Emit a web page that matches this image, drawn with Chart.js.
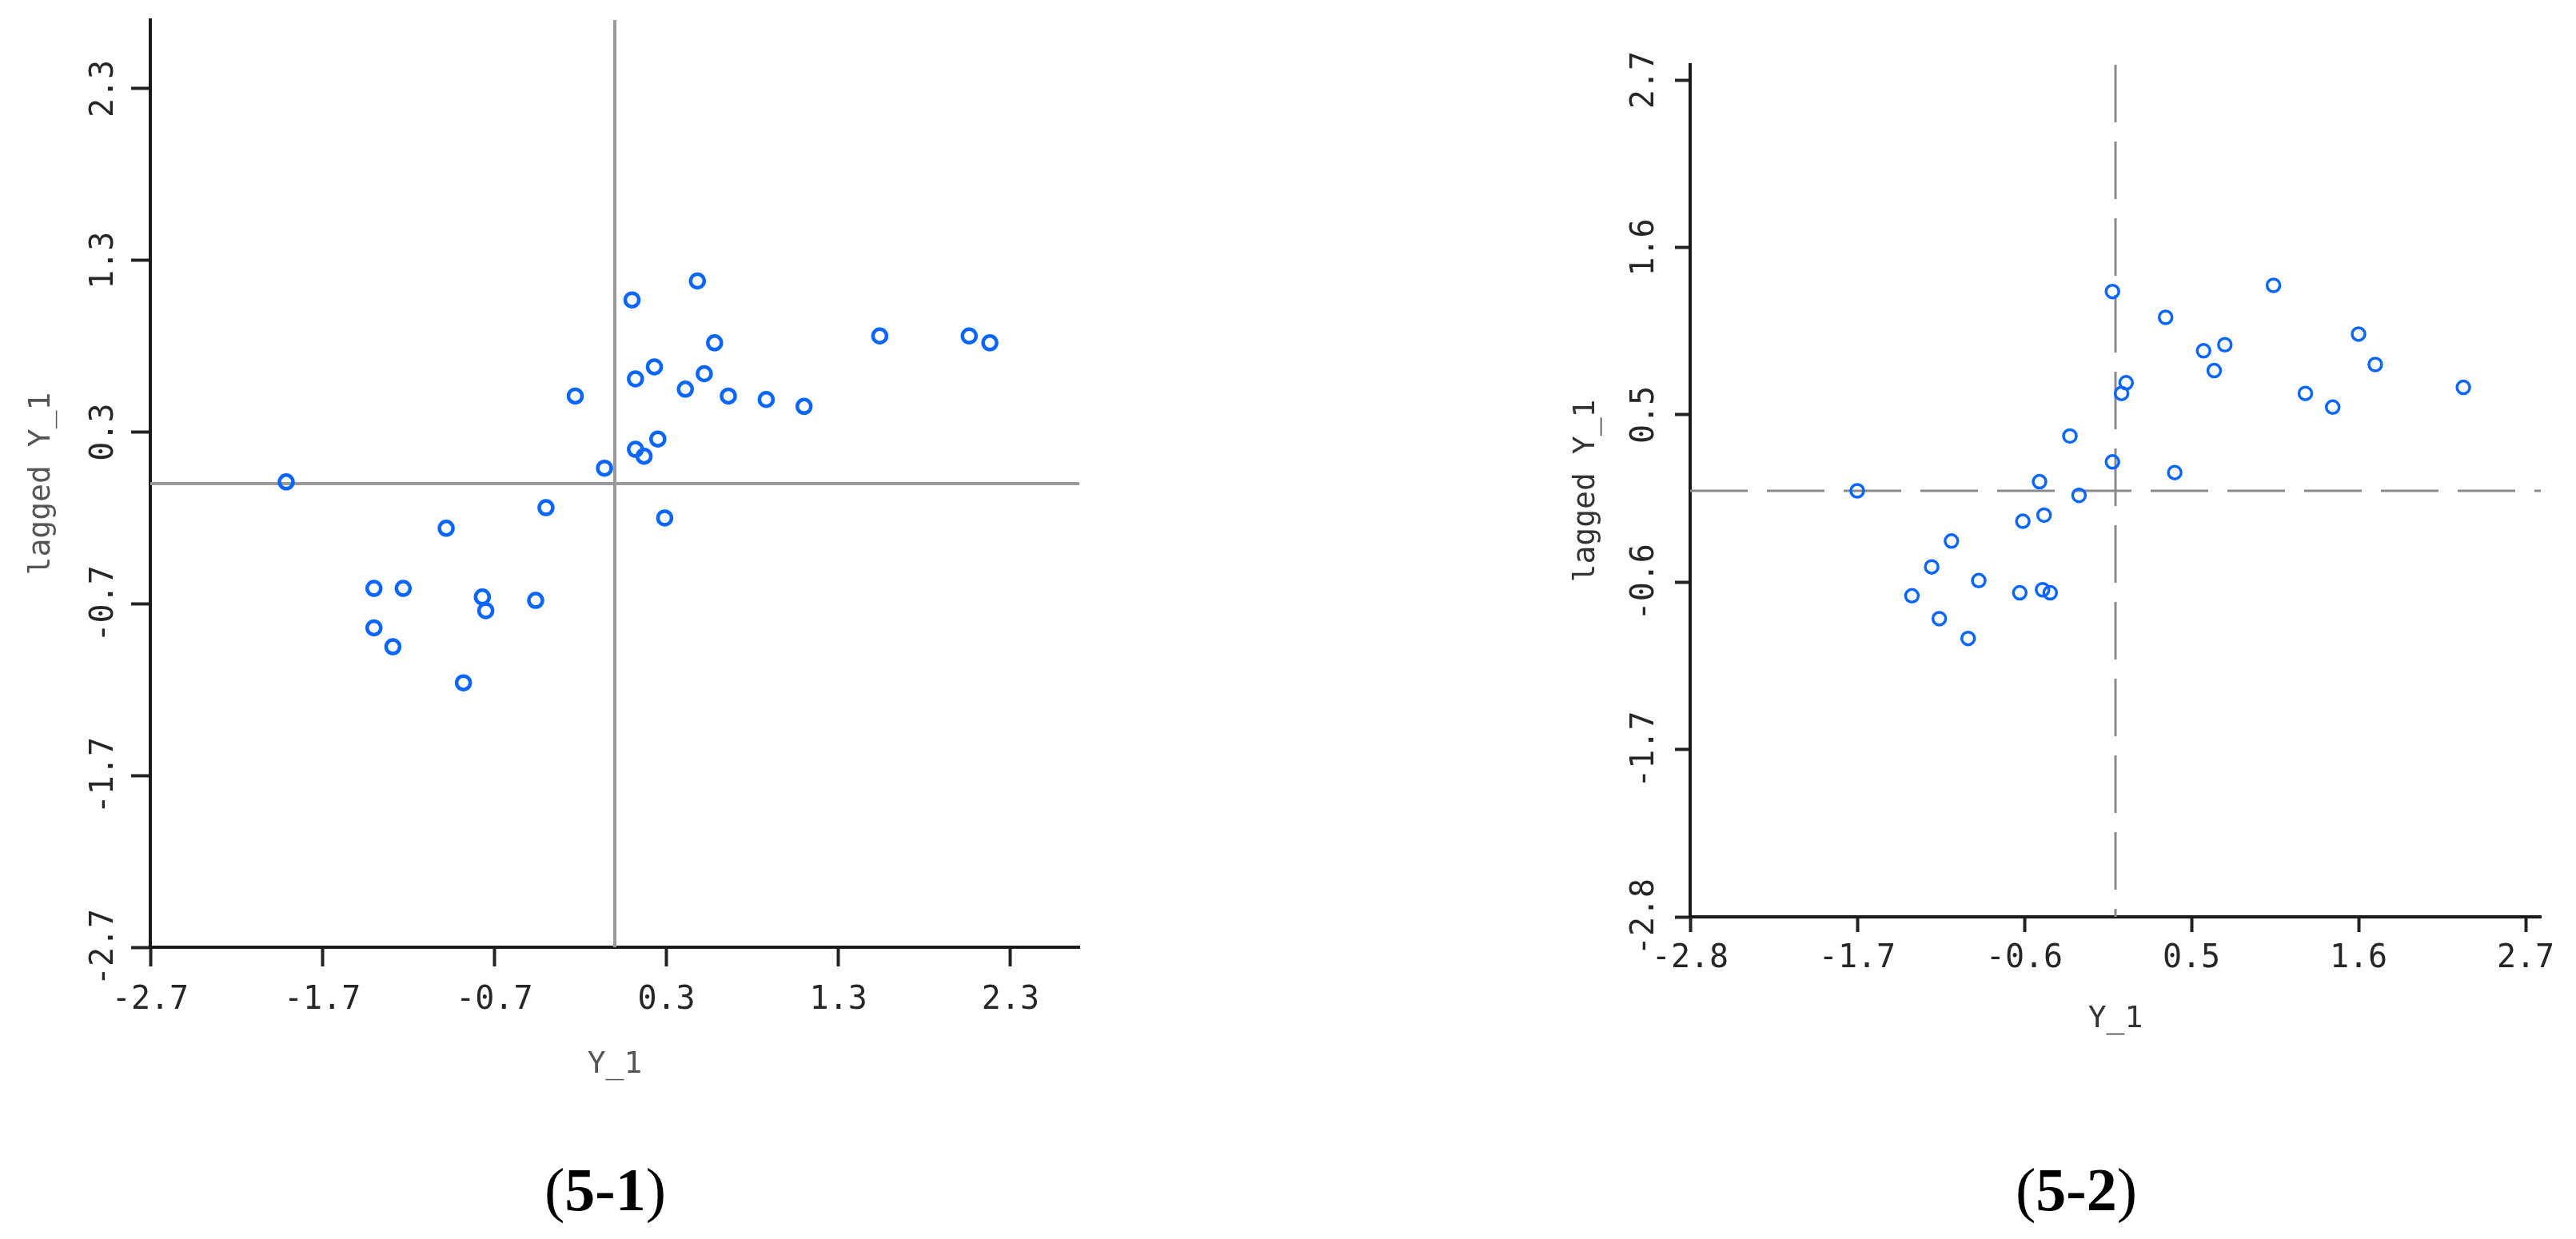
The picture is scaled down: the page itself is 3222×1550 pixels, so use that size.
<!DOCTYPE html>
<html>
<head>
<meta charset="utf-8">
<script src="https://cdn.jsdelivr.net/npm/chart.js@4.4.1/dist/chart.umd.min.js"></script>
<style>
  body { margin: 0; background: #fff; width: 3222px; height: 1550px; position: relative; overflow: hidden; }
  canvas { position: absolute; top: 0; }
  #graph1 { left: 0; }
  #graph2 { left: 1900px; }
  .legende { position: absolute; top: 1450px; transform: translateX(-50%); font-family: "Liberation Serif", serif; font-size: 76px; line-height: 1; color: #000; }
</style>
</head>
<body>
<canvas id="graph1" width="1400" height="1380"></canvas>
<canvas id="graph2" width="1322" height="1320"></canvas>
<div class="legende" style="left:757px">(<b>5-1</b>)</div>
<div class="legende" style="left:2597px">(<b>5-2</b>)</div>
<script>
/* nuage (5-1) */
const y1_a = [-1.91, 0.10, 0.48, 1.54, 2.06, 2.18, 0.58, 0.23, 0.12, 0.52, 0.41, 0.66, 0.88, 1.10, -0.23,
  0.25, 0.12, 0.17, -0.06, -0.40, 0.29, -0.98, -1.40, -1.23, -0.77, -0.75, -0.46, -1.40, -1.29, -0.88];
const lagY1_a = [0.01, 1.07, 1.18, 0.86, 0.86, 0.82, 0.82, 0.68, 0.61, 0.64, 0.55, 0.51, 0.49, 0.45, 0.51,
  0.26, 0.20, 0.16, 0.09, -0.14, -0.20, -0.26, -0.61, -0.61, -0.66, -0.74, -0.68, -0.84, -0.95, -1.16];
const ticks_a = [-2.7, -1.7, -0.7, 0.3, 1.3, 2.3];
const range_a = [-2.7, 2.7];

/* nuage (5-2) */
const y1_b = [-1.70, -0.02, 1.04, 0.33, 1.60, 0.58, 0.72, 0.65, 1.71, 0.07, 0.04, 1.25, 1.43, 2.29, -0.30,
  -0.02, 0.39, -0.50, -0.24, -0.47, -0.61, -1.08, -1.21, -0.90, -1.34, -1.16, -0.97, -0.63, -0.48, -0.43];
const lagY1_b = [0.00, 1.31, 1.35, 1.14, 1.03, 0.92, 0.96, 0.79, 0.83, 0.71, 0.64, 0.64, 0.55, 0.68, 0.36,
  0.19, 0.12, 0.06, -0.03, -0.16, -0.20, -0.33, -0.50, -0.59, -0.69, -0.84, -0.97, -0.67, -0.65, -0.67];
const ticks_b = [-2.8, -1.7, -0.6, 0.5, 1.6, 2.7];
const range_b = [-2.8, 2.8];

const moyenne = 0;

/* droites de moyenne (quadrants) */
const quadrants = {
  id: "quadrants",
  beforeDatasetsDraw(chart, args, opts) {
    const { ctx, chartArea, scales } = chart;
    const px = scales.x.getPixelForValue(opts.at);
    const py = scales.y.getPixelForValue(opts.at);
    ctx.save();
    ctx.strokeStyle = opts.color;
    ctx.lineWidth = opts.width;
    ctx.setLineDash(opts.dash);
    ctx.beginPath();
    ctx.moveTo(px, chartArea.top);
    ctx.lineTo(px, chartArea.bottom);
    ctx.moveTo(chartArea.left, py);
    ctx.lineTo(chartArea.right, py);
    ctx.stroke();
    ctx.restore();
  },
};

const police = { family: "DejaVu Sans Mono", size: 40 };
const policeTitre = { family: "DejaVu Sans Mono", size: 38 };

function nuage(id, xs, ys, ticks, range, o) {
  const axe = (titre, hauteur, largeur, isX) => ({
    type: "linear",
    min: range[0],
    max: range[1],
    afterBuildTicks: (s) => { s.ticks = ticks.map((v) => ({ value: v })); },
    afterFit: (s) => { if (isX) s.height = hauteur; else s.width = largeur; },
    grid: { drawOnChartArea: false, drawTicks: true, tickLength: o.tl, tickWidth: 4, tickColor: "#222" },
    border: { display: true, color: "#1a1a1a", width: 4 },
    ticks: {
      autoSkip: false,
      font: police,
      color: "#262626",
      padding: isX ? o.xpad : o.ypad,
      minRotation: isX ? 0 : 90,
      maxRotation: isX ? 0 : 90,
      crossAlign: isX ? "near" : "center",
      callback: (v) => v.toFixed(1),
    },
    title: {
      display: true,
      text: titre,
      font: policeTitre,
      color: o.titleColor,
      padding: isX ? { top: 0, bottom: o.xtp } : { top: o.ytp, bottom: 0 },
    },
  });

  return new Chart(document.getElementById(id), {
    type: "scatter",
    data: {
      datasets: [{
        data: xs.map((x, i) => ({ x: x, y: ys[i] })),
        borderColor: "#0a66ff",
        backgroundColor: "rgba(255,255,255,0)",
        borderWidth: o.pw,
        pointRadius: o.pr,
        pointHoverRadius: o.pr,
      }],
    },
    options: {
      responsive: false,
      animation: false,
      devicePixelRatio: 1,
      layout: { padding: o.padding },
      plugins: {
        legend: { display: false },
        tooltip: { enabled: false },
        quadrants: { at: moyenne, color: o.lineColor, width: o.lw, dash: o.dash },
      },
      scales: {
        x: Object.assign(axe("Y_1", o.xh, 0, true), { position: "bottom" }),
        y: Object.assign(axe("lagged Y_1", 0, o.yw, false), { position: "left" }),
      },
    },
    plugins: [quadrants],
  });
}

nuage("graph1", y1_a, lagY1_a, ticks_a, range_a, {
  padding: { left: 0, top: 25, right: 50, bottom: 0 },
  xh: 195, yw: 188, tl: 24, xpad: 19, ypad: -15, xtp: 25, ytp: 29, pw: 4.5, pr: 8.5,
  titleColor: "#555", lineColor: "#9a9a9a", lw: 4, dash: [],
});

nuage("graph2", y1_b, lagY1_b, ticks_b, range_b, {
  padding: { left: 0, top: 81, right: 44, bottom: 0 },
  xh: 173, yw: 214, tl: 19, xpad: 10, ypad: -11, xtp: 22, ytp: 61, pw: 3.5, pr: 8,
  titleColor: "#333", lineColor: "#8a8a8a", lw: 3, dash: [72, 24],
});
</script>
</body>
</html>
